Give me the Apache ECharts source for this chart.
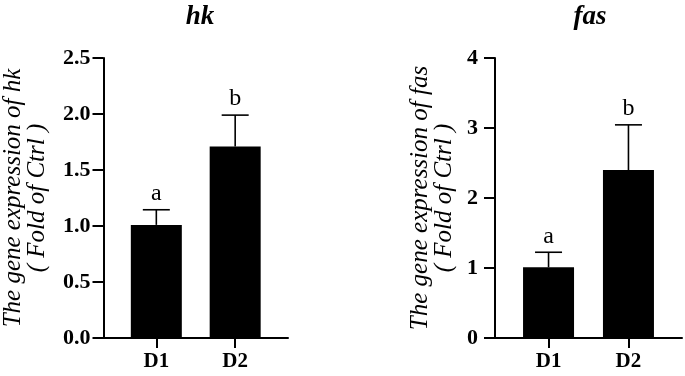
<!DOCTYPE html>
<html>
<head>
<meta charset="utf-8">
<script src="https://cdn.jsdelivr.net/npm/echarts@6/dist/echarts.min.js"></script>
<style>
html,body{margin:0;padding:0;background:#fff;}
#chart{width:685px;height:376px;}
</style>
</head>
<body>
<div id="chart"></div>
<script>
// ---- data ----
var categories = ['D1', 'D2'];
var hkMean = [1.01, 1.71];
var hkErr = [0.135, 0.28];
var hkLetters = ['a', 'b'];
var fasMean = [1.01, 2.40];
var fasErr = [0.215, 0.645];
var fasLetters = ['a', 'b'];
var hkTicks = { min: 0, max: 2.5, interval: 0.5 };
var fasTicks = { min: 0, max: 4, interval: 1 };
var titles = ['hk', 'fas'];
var yNames = ['The gene expression of hk\n( Fold of Ctrl )', 'The gene expression of fas\n( Fold of Ctrl )'];

var SERIF = '"Liberation Serif", "Times New Roman", "DejaVu Serif", serif';

function errRender(letters) {
  return function (params, api) {
    var x = api.value(0), m = api.value(1), e = api.value(2);
    var p0 = api.coord([x, m]);
    var p1 = api.coord([x, m + e]);
    var half = 13.5;
    return {
      type: 'group',
      children: [
        { type: 'line', shape: { x1: p0[0], y1: p0[1], x2: p1[0], y2: p1[1] }, style: { stroke: '#000', lineWidth: 1.6 } },
        { type: 'line', shape: { x1: p1[0] - half, y1: p1[1], x2: p1[0] + half, y2: p1[1] }, style: { stroke: '#000', lineWidth: 1.6 } },
        { type: 'text', x: p1[0], y: p1[1] - 4, style: { text: letters[params.dataIndex], align: 'center', verticalAlign: 'bottom', font: '24px ' + SERIF, fill: '#000' } }
      ]
    };
  };
}

function xAxisDef(gi) {
  return {
    type: 'value', gridIndex: gi, min: -0.67, max: 1.67,
    splitLine: { show: false },
    axisLine: { show: true, onZero: false, lineStyle: { color: '#000', width: 2 } },
    axisTick: { show: true, customValues: [0, 1], length: 10, lineStyle: { color: '#000', width: 2 } },
    axisLabel: {
      customValues: [0, 1], margin: 13,
      formatter: function (v) { return categories[Math.round(v)] || ''; },
      fontFamily: SERIF, fontWeight: 'bold', fontSize: 21, color: '#000'
    }
  };
}

function yAxisDef(gi, t, name, gap, margin, fmt) {
  return {
    type: 'value', gridIndex: gi, min: t.min, max: t.max, interval: t.interval,
    name: name, nameLocation: 'middle', nameGap: gap, nameRotate: 90,
    nameTextStyle: { fontFamily: SERIF, fontStyle: 'italic', fontSize: 25, lineHeight: 24, color: '#000' },
    splitLine: { show: false },
    axisLine: { show: true, onZero: false, lineStyle: { color: '#000', width: 2 } },
    axisTick: { show: true, length: 11, lineStyle: { color: '#000', width: 2 } },
    axisLabel: { margin: margin, formatter: fmt, fontFamily: SERIF, fontWeight: 'bold', fontSize: 22, color: '#000' }
  };
}

var chart = echarts.init(document.getElementById('chart'), null, { renderer: 'canvas' });
chart.setOption({
  animation: false,
  backgroundColor: '#fff',
  title: [
    { text: titles[0], left: 195, top: -1, textAlign: 'center', textStyle: { fontFamily: SERIF, fontStyle: 'italic', fontWeight: 'bold', fontSize: 27, color: '#000' } },
    { text: titles[1], left: 585, top: -1, textAlign: 'center', textStyle: { fontFamily: SERIF, fontStyle: 'italic', fontWeight: 'bold', fontSize: 27, color: '#000' } }
  ],
  grid: [
    { left: 101, top: 58, width: 187, height: 280 },
    { left: 495, top: 58, width: 187, height: 280 }
  ],
  xAxis: [xAxisDef(0), xAxisDef(1)],
  yAxis: [
    yAxisDef(0, hkTicks, yNames[0], 54, 13, function (v) { return v.toFixed(1); }),
    yAxisDef(1, fasTicks, yNames[1], 39, 17, function (v) { return String(v); })
  ],
  series: [
    { type: 'bar', xAxisIndex: 0, yAxisIndex: 0, barWidth: 51, itemStyle: { color: '#000' },
      data: categories.map(function (c, i) { return [i, hkMean[i]]; }) },
    { type: 'custom', xAxisIndex: 0, yAxisIndex: 0, z: 1, renderItem: errRender(hkLetters),
      data: categories.map(function (c, i) { return [i, hkMean[i], hkErr[i]]; }) },
    { type: 'bar', xAxisIndex: 1, yAxisIndex: 1, barWidth: 51, itemStyle: { color: '#000' },
      data: categories.map(function (c, i) { return [i, fasMean[i]]; }) },
    { type: 'custom', xAxisIndex: 1, yAxisIndex: 1, z: 1, renderItem: errRender(fasLetters),
      data: categories.map(function (c, i) { return [i, fasMean[i], fasErr[i]]; }) }
  ]
});
</script>
</body>
</html>
